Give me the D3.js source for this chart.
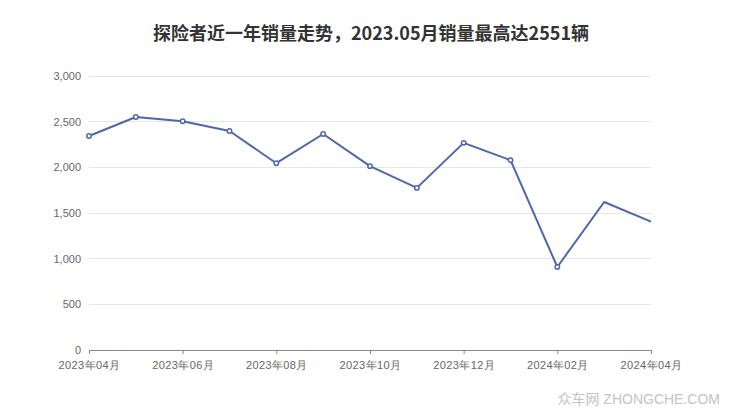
<!DOCTYPE html>
<html><head><meta charset="utf-8">
<script src="https://cdn.jsdelivr.net/npm/d3@7"></script>
<style>body{margin:0;background:#fff;}svg{display:block;font-family:"Liberation Sans","Noto Sans CJK SC",sans-serif;}</style>
</head><body>
<svg id="c" width="740" height="417"></svg>
<script>
const months = ["2023年04月","2023年05月","2023年06月","2023年07月","2023年08月","2023年09月","2023年10月","2023年11月","2023年12月","2024年01月","2024年02月","2024年03月","2024年04月"];
const sales = [2343, 2551, 2505, 2398, 2045, 2365, 2013, 1775, 2268, 2078, 909, 1620, 1405];
const yTicks = [0, 500, 1000, 1500, 2000, 2500, 3000];
const titleText = "探险者近一年销量走势，2023.05月销量最高达2551辆";

const svg = d3.select("#c");
const m = {l: 89, r: 651, t: 76, b: 350};
const x = d3.scalePoint().domain(months).range([m.l, m.r]);
const y = d3.scaleLinear().domain([0, 3000]).range([m.b, m.t]);

svg.append("text").attr("x", 371).attr("y", 40).attr("text-anchor", "middle")
  .attr("font-size", 18).attr("font-weight", "bold").attr("fill", "#333")
  .attr("font-family", "'Noto Sans CJK SC',sans-serif").text(titleText);

// grid
svg.append("g").selectAll("line").data(yTicks.filter(d => d > 0)).join("line")
  .attr("x1", m.l).attr("x2", m.r).attr("y1", d => y(d)).attr("y2", d => y(d))
  .attr("stroke", "#e6e6e6").attr("stroke-width", 1).attr("shape-rendering", "crispEdges");

// y labels
const fmt = d3.format(",");
svg.append("g").selectAll("text").data(yTicks).join("text")
  .attr("x", 81).attr("y", d => y(d) + 4).attr("text-anchor", "end")
  .attr("font-size", 11).attr("fill", "#666").text(d => fmt(d));

// x axis
const xa = svg.append("g").attr("transform", `translate(0,${m.b})`)
  .call(d3.axisBottom(x).tickValues(months.filter((d, i) => i % 2 === 0)).tickSize(4).tickSizeOuter(0));
xa.select(".domain").attr("stroke", "#888");
xa.selectAll(".tick line").attr("stroke", "#888");
xa.selectAll(".tick text").attr("font-size", 11).attr("fill", "#666").attr("y", 19).attr("dy", 0)
  .attr("letter-spacing", "0.4px");

// line
const line = d3.line().x((d, i) => x(months[i])).y(d => y(d));
svg.append("path").datum(sales).attr("d", line).attr("fill", "none")
  .attr("stroke", "#4e66ad").attr("stroke-width", 2).attr("stroke-linejoin", "round");

svg.append("g").selectAll("circle").data(sales.slice(0, 11)).join("circle")
  .attr("cx", (d, i) => x(months[i])).attr("cy", d => y(d)).attr("r", 2.2)
  .attr("fill", "#fff").attr("stroke", "#4e66ad").attr("stroke-width", 1.5);

svg.append("text").attr("x", 720).attr("y", 404).attr("text-anchor", "end")
  .attr("font-size", 14).attr("fill", "#c4c4c4")
  .text("众车网 ZHONGCHE.COM");
</script>
</body></html>
